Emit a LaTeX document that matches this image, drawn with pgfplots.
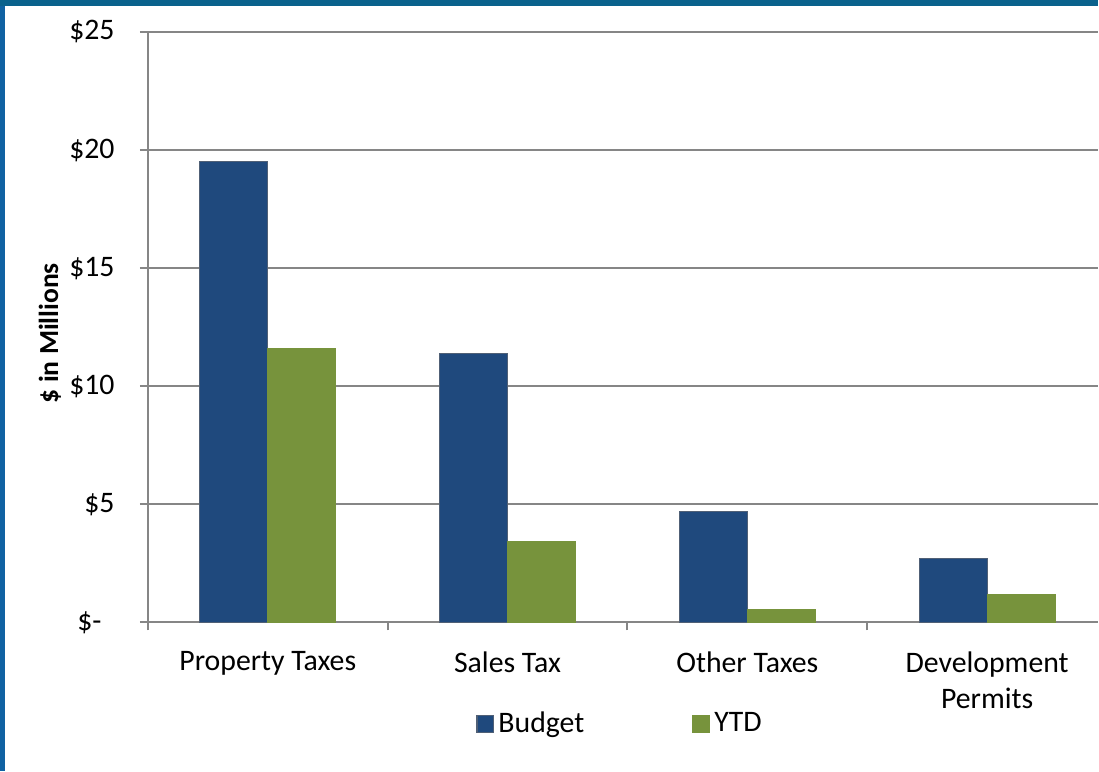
\documentclass[border=0pt]{standalone}
\usepackage{pgfplots}
\pgfplotsset{compat=1.18}
\usepackage{fontspec}
\setmainfont{Carlito}
\definecolor{budget}{RGB}{31,73,125}
\definecolor{budgetedge}{RGB}{80,96,118}
\definecolor{ytd}{RGB}{119,147,60}
\definecolor{gridgray}{RGB}{134,134,134}
\definecolor{leftblue}{RGB}{16,98,162}
\definecolor{topblue}{RGB}{10,98,140}
\begin{document}
\fontsize{14.9}{18}\selectfont
\begin{tikzpicture}
\begin{axis}[
  at={(0,0)}, anchor=south west,
  scale only axis, width=475.5pt, height=295.5pt,
  xmin=-0.5, xmax=3.4625, ymin=0, ymax=25,
  axis x line*=bottom, axis y line*=left,
  axis line style={gridgray, line width=1pt},
  ytick={0,5,...,25},
  yticklabels={\$-\rule{6.5pt}{0pt},\$5,\$10,\$15,\$20,\$25},
  ymajorgrids, grid style={gridgray, line width=1pt},
  tick align=outside, major tick length=4pt,
  tick style={gridgray, line width=1pt},
  xtick={-0.5,0.5,1.5,2.5}, xticklabels={},
  extra x ticks={0,1,2,3},
  extra x tick labels={Property Taxes,Sales Tax,Other Taxes,{Development\\Permits}},
  extra x tick style={major tick length=0pt, grid=none,
    xticklabel style={align=center, yshift=-9.5pt}},
  yticklabel style={xshift=-7.5pt},
  tick label style={font=\fontsize{14.9}{18}\selectfont},
  ylabel={\$ in Millions},
  ylabel style={font=\bfseries\fontsize{13.8}{16}\selectfont,
    at={(axis description cs:-0.103,0.49)}, anchor=center},
  legend style={at={(axis description cs:0.498,0)}, anchor=center, yshift=-51pt,
    draw=none, fill=none, font=\fontsize{14.9}{18}\selectfont,
    legend columns=2,
    /tikz/every even column/.append style={column sep=52pt}},
  legend image code/.code={\fill[#1] (0pt,-4.25pt) rectangle (8.5pt,4.25pt);},
]
\addplot[ybar, bar width=34pt, bar shift=-17pt, fill=budget, draw=budgetedge, line width=0.6pt]
  coordinates {(0,19.5) (1,11.38) (2,4.7) (3,2.71)};
\addlegendentry{Budget}
\addplot[ybar, bar width=34pt, bar shift=17pt, fill=ytd, draw=ytd, line width=0.6pt]
  coordinates {(0,11.6) (1,3.43) (2,0.55) (3,1.18)};
\addlegendentry{YTD}
\end{axis}
\path[use as bounding box] (-74pt,-74.5pt) rectangle (475.5pt,311.5pt);
\fill[leftblue] (-74pt,-74.5pt) rectangle (-71.5pt,311.5pt);
\fill[topblue] (-74pt,308.5pt) rectangle (475.5pt,311.5pt);
\end{tikzpicture}
\end{document}
